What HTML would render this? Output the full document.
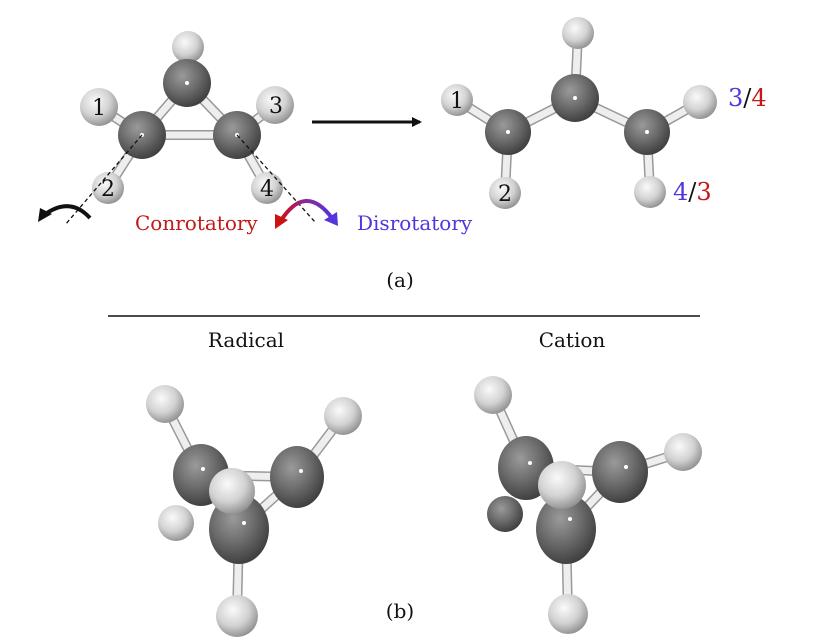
<!DOCTYPE html>
<html><head><meta charset="utf-8"><style>
html,body{margin:0;padding:0;background:#fff;}
svg{display:block;}
text{font-family:"DejaVu Serif","Liberation Serif",serif;}
</style></head><body>
<svg width="821" height="644" viewBox="0 0 821 644" xmlns="http://www.w3.org/2000/svg">
<defs>
<radialGradient id="gC" cx="0.4" cy="0.35" r="0.7">
<stop offset="0" stop-color="#9a9a9a"/><stop offset="0.5" stop-color="#6c6c6c"/><stop offset="1" stop-color="#3a3a3a"/>
</radialGradient>
<radialGradient id="gH" cx="0.4" cy="0.35" r="0.7">
<stop offset="0" stop-color="#fafafa"/><stop offset="0.55" stop-color="#d2d2d2"/><stop offset="1" stop-color="#8a8a8a"/>
</radialGradient>
<linearGradient id="rb" x1="0" y1="0" x2="1" y2="0"><stop offset="0" stop-color="#cc1111"/><stop offset="0.5" stop-color="#8a2a9a"/><stop offset="1" stop-color="#5533dd"/></linearGradient>
<marker id="ah" markerWidth="10" markerHeight="10" refX="8" refY="5" orient="auto" markerUnits="userSpaceOnUse"><path d="M0,0 L10,5 L0,10 z" fill="#111"/></marker>
</defs>
<g stroke-linecap="round">
<g stroke="#999" stroke-width="10">
<line x1="188" y1="47" x2="187" y2="83"/><line x1="187" y1="83" x2="142" y2="135"/><line x1="187" y1="83" x2="237" y2="135"/>
<line x1="142" y1="135" x2="237" y2="135"/><line x1="142" y1="135" x2="99" y2="107"/><line x1="237" y1="135" x2="275" y2="105"/>
<line x1="142" y1="135" x2="108" y2="188"/><line x1="237" y1="135" x2="267" y2="188"/>
<line x1="457" y1="100" x2="508" y2="132"/><line x1="508" y1="132" x2="575" y2="98"/><line x1="575" y1="98" x2="647" y2="132"/>
<line x1="578" y1="33" x2="575" y2="98"/><line x1="647" y1="132" x2="700" y2="102"/><line x1="508" y1="132" x2="505" y2="193"/><line x1="647" y1="132" x2="650" y2="192"/>
<line x1="165" y1="404" x2="201" y2="475"/><line x1="343" y1="416" x2="297" y2="477"/><line x1="201" y1="475" x2="297" y2="477"/><line x1="297" y1="477" x2="239" y2="529"/><line x1="239" y1="529" x2="237" y2="616"/>
<line x1="493" y1="395" x2="526" y2="468"/><line x1="683" y1="452" x2="620" y2="472"/><line x1="526" y1="468" x2="620" y2="472"/><line x1="620" y1="472" x2="566" y2="529"/><line x1="566" y1="529" x2="568" y2="614"/>
</g>
<g stroke="#eee" stroke-width="7">
<line x1="188" y1="47" x2="187" y2="83"/><line x1="187" y1="83" x2="142" y2="135"/><line x1="187" y1="83" x2="237" y2="135"/>
<line x1="142" y1="135" x2="237" y2="135"/><line x1="142" y1="135" x2="99" y2="107"/><line x1="237" y1="135" x2="275" y2="105"/>
<line x1="142" y1="135" x2="108" y2="188"/><line x1="237" y1="135" x2="267" y2="188"/>
<line x1="457" y1="100" x2="508" y2="132"/><line x1="508" y1="132" x2="575" y2="98"/><line x1="575" y1="98" x2="647" y2="132"/>
<line x1="578" y1="33" x2="575" y2="98"/><line x1="647" y1="132" x2="700" y2="102"/><line x1="508" y1="132" x2="505" y2="193"/><line x1="647" y1="132" x2="650" y2="192"/>
<line x1="165" y1="404" x2="201" y2="475"/><line x1="343" y1="416" x2="297" y2="477"/><line x1="201" y1="475" x2="297" y2="477"/><line x1="297" y1="477" x2="239" y2="529"/><line x1="239" y1="529" x2="237" y2="616"/>
<line x1="493" y1="395" x2="526" y2="468"/><line x1="683" y1="452" x2="620" y2="472"/><line x1="526" y1="468" x2="620" y2="472"/><line x1="620" y1="472" x2="566" y2="529"/><line x1="566" y1="529" x2="568" y2="614"/>
</g>
</g>
<circle cx="188" cy="47" r="16" fill="url(#gH)"/>
<circle cx="187" cy="83" r="24" fill="url(#gC)"/>
<circle cx="99" cy="107" r="19" fill="url(#gH)"/>
<circle cx="275" cy="105" r="19" fill="url(#gH)"/>
<circle cx="108" cy="188" r="16" fill="url(#gH)"/>
<circle cx="267" cy="188" r="16" fill="url(#gH)"/>
<circle cx="142" cy="135" r="24" fill="url(#gC)"/>
<circle cx="237" cy="135" r="24" fill="url(#gC)"/>
<g fill="#fff"><circle cx="187" cy="83" r="2"/><circle cx="142" cy="135" r="2"/><circle cx="237" cy="135" r="2"/></g>
<g font-size="22" fill="#111" text-anchor="middle">
<text x="99" y="115">1</text><text x="276" y="113">3</text><text x="108" y="196">2</text><text x="267" y="196">4</text>
</g>
<line x1="142" y1="135" x2="65" y2="225" stroke="#111" stroke-width="1.3" stroke-dasharray="4,3"/>
<line x1="237" y1="135" x2="315" y2="222" stroke="#111" stroke-width="1.3" stroke-dasharray="4,3"/>
<path d="M90,218 Q70,196 44,215" fill="none" stroke="#111" stroke-width="4"/>
<path d="M38,222 L40,208 L52,214 z" fill="#111"/>
<path d="M280,222 Q305,182 332,218" fill="none" stroke="url(#rb)" stroke-width="4"/>
<path d="M275,229 L275,214 L288,220 z" fill="#cc1111"/>
<path d="M338,226 L324,220 L337,212 z" fill="#5533dd"/>
<text x="135" y="230" font-size="20" fill="#c21818">Conrotatory</text>
<text x="357" y="230" font-size="20" fill="#5533dd">Disrotatory</text>
<line x1="312" y1="122" x2="420" y2="122" stroke="#111" stroke-width="3" marker-end="url(#ah)"/>
<circle cx="578" cy="33" r="16" fill="url(#gH)"/>
<circle cx="457" cy="100" r="16" fill="url(#gH)"/>
<circle cx="700" cy="102" r="17" fill="url(#gH)"/>
<circle cx="505" cy="193" r="16" fill="url(#gH)"/>
<circle cx="650" cy="192" r="16" fill="url(#gH)"/>
<circle cx="508" cy="132" r="23" fill="url(#gC)"/>
<circle cx="575" cy="98" r="24" fill="url(#gC)"/>
<circle cx="647" cy="132" r="23" fill="url(#gC)"/>
<g fill="#fff"><circle cx="508" cy="132" r="2"/><circle cx="575" cy="98" r="2"/><circle cx="647" cy="132" r="2"/></g>
<g font-size="22" fill="#111" text-anchor="middle"><text x="457" y="108">1</text><text x="505" y="201">2</text></g>
<text x="728" y="106" font-size="24"><tspan fill="#5533dd">3</tspan><tspan fill="#111">/</tspan><tspan fill="#c21818">4</tspan></text>
<text x="673" y="200" font-size="24"><tspan fill="#5533dd">4</tspan><tspan fill="#111">/</tspan><tspan fill="#c21818">3</tspan></text>
<text x="400" y="287" font-size="20" fill="#111" text-anchor="middle">(a)</text>
<line x1="108" y1="316" x2="700" y2="316" stroke="#111" stroke-width="1.5"/>
<text x="246" y="347" font-size="20" fill="#111" text-anchor="middle">Radical</text>
<text x="572" y="347" font-size="20" fill="#111" text-anchor="middle">Cation</text>
<circle cx="165" cy="404" r="19" fill="url(#gH)"/>
<circle cx="343" cy="416" r="19" fill="url(#gH)"/>
<circle cx="237" cy="616" r="21" fill="url(#gH)"/>
<ellipse cx="201" cy="475" rx="28" ry="31" fill="url(#gC)"/>
<ellipse cx="297" cy="477" rx="27" ry="31" fill="url(#gC)"/>
<circle cx="176" cy="523" r="18" fill="url(#gH)"/>
<ellipse cx="239" cy="529" rx="30" ry="35" fill="url(#gC)"/>
<circle cx="232" cy="491" r="23" fill="url(#gH)"/>
<g fill="#fff"><circle cx="203" cy="469" r="2"/><circle cx="301" cy="471" r="2"/><circle cx="244" cy="523" r="2"/></g>
<circle cx="493" cy="395" r="19" fill="url(#gH)"/>
<circle cx="683" cy="452" r="19" fill="url(#gH)"/>
<circle cx="568" cy="614" r="20" fill="url(#gH)"/>
<ellipse cx="526" cy="468" rx="28" ry="32" fill="url(#gC)"/>
<ellipse cx="620" cy="472" rx="28" ry="31" fill="url(#gC)"/>
<circle cx="505" cy="514" r="18" fill="url(#gC)"/>
<ellipse cx="566" cy="529" rx="30" ry="35" fill="url(#gC)"/>
<circle cx="562" cy="485" r="24" fill="url(#gH)"/>
<g fill="#fff"><circle cx="530" cy="463" r="2"/><circle cx="626" cy="467" r="2"/><circle cx="570" cy="519" r="2"/></g>
<text x="400" y="618" font-size="20" fill="#111" text-anchor="middle">(b)</text>
</svg>
</body></html>
